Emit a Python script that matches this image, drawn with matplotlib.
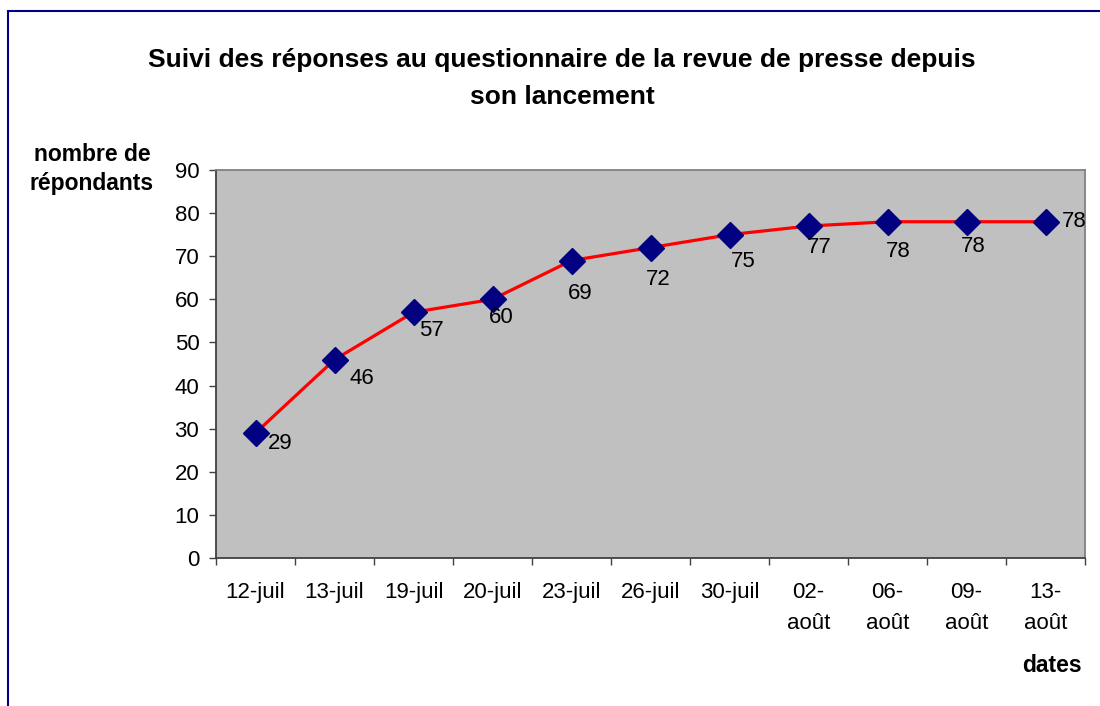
import numpy as np
import matplotlib.pyplot as plt
from matplotlib.patches import Rectangle

plt.rcParams['font.family'] = ['Liberation Sans', 'DejaVu Sans']

# donnees
dates = ["12-juil", "13-juil", "19-juil", "20-juil", "23-juil", "26-juil",
         "30-juil", "02-\naoût", "06-\naoût", "09-\naoût", "13-\naoût"]
repondants = [29, 46, 57, 60, 69, 72, 75, 77, 78, 78, 78]
yticks = [0, 10, 20, 30, 40, 50, 60, 70, 80, 90]

# decalage des etiquettes (pixels)
decal = [(25, -11), (27, -19), (18, -18), (9, -18), (9, -33), (8, -32),
         (14, -27), (11, -21), (11, -30), (7, -25), (29, 0)]

fig = plt.figure(figsize=(11, 7.06), dpi=100)
ax = fig.add_axes([216/1100, 1-558/706, (1085-216)/1100, (558-170)/706])
ax.set_facecolor("#C0C0C0")

x = np.arange(len(dates))
ax.plot(x, repondants, color="red", lw=2.3, marker="D", ms=13,
        mfc="#000080", mec="#000080", zorder=3)

for i in range(len(x)):
    ax.annotate(str(repondants[i]), (x[i], repondants[i]),
                xytext=(decal[i][0]*0.72, decal[i][1]*0.72),
                textcoords="offset points", ha="center", va="center",
                fontsize=16, zorder=4, annotation_clip=False)

ax.set_xlim(-0.5, len(dates)-0.5)
ax.set_ylim(0, 90)
ax.set_yticks(yticks)
ax.set_xticks(x)
ax.set_xticklabels(dates, linespacing=1.65, va="top")
ax.set_xticks(np.arange(len(dates)+1)-0.5, minor=True)
ax.tick_params(axis="x", which="major", length=0, pad=17, labelsize=16)
ax.tick_params(axis="x", which="minor", length=5, width=1, color="#404040")
ax.tick_params(axis="y", length=5, width=1, color="#404040", pad=7, labelsize=16)

for s in ["top", "right"]:
    ax.spines[s].set_color("#808080")
    ax.spines[s].set_linewidth(1.3)
for s in ["left", "bottom"]:
    ax.spines[s].set_color("#404040")
    ax.spines[s].set_linewidth(1.3)

fig.text(562/1100, 1-60/706, "Suivi des réponses au questionnaire de la revue de presse depuis",
         ha="center", va="center", fontsize=19, fontweight="bold")
fig.text(562/1100, 1-97/706, "son lancement",
         ha="center", va="center", fontsize=19, fontweight="bold")
fig.text(92/1100, 1-169/706, "nombre de\nrépondants", ha="center", va="center",
         fontsize=16.5, fontweight="bold", linespacing=1.3)
fig.text(1052/1100, 1-665/706, "dates", ha="center", va="center",
         fontsize=16.5, fontweight="bold")

fig.patches.append(Rectangle((8/1100, -0.1), 1.2, 1.1-11/706, transform=fig.transFigure,
                             fill=False, edgecolor="#000080", lw=1.5, clip_on=False))

fig.savefig("out.png", dpi=100)
